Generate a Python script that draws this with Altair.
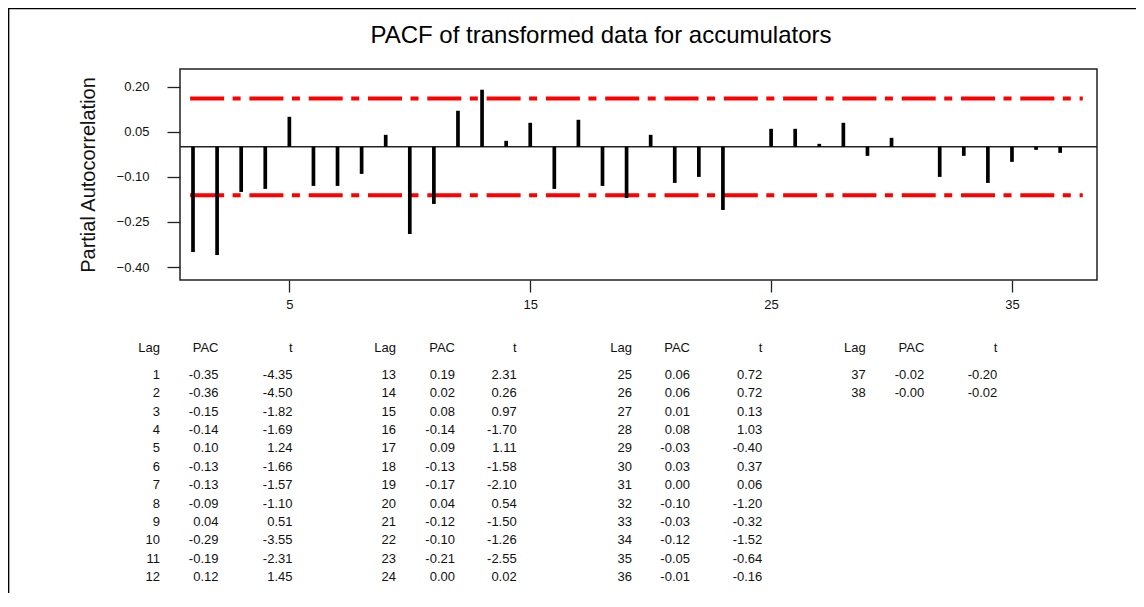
import altair as alt
import pandas as pd

# ---- data ----
lags = list(range(1, 39))
pac = [-0.35, -0.36, -0.15, -0.14, 0.10, -0.13, -0.13, -0.09, 0.04, -0.29, -0.19, 0.12,
       0.19, 0.02, 0.08, -0.14, 0.09, -0.13, -0.17, 0.04, -0.12, -0.10, -0.21, 0.00,
       0.06, 0.06, 0.01, 0.08, -0.03, 0.03, 0.00, -0.10, -0.03, -0.12, -0.05, -0.01,
       -0.02, -0.00]
tvals = [-4.35, -4.50, -1.82, -1.69, 1.24, -1.66, -1.57, -1.10, 0.51, -3.55, -2.31, 1.45,
         2.31, 0.26, 0.97, -1.70, 1.11, -1.58, -2.10, 0.54, -1.50, -1.26, -2.55, 0.02,
         0.72, 0.72, 0.13, 1.03, -0.40, 0.37, 0.06, -1.20, -0.32, -1.52, -0.64, -0.16,
         -0.20, -0.02]
conf_limit = 0.161
y_ticks = [0.20, 0.05, -0.10, -0.25, -0.40]
x_ticks = [5, 15, 25, 35]
headers = ["Lag", "PAC", "t"]

FONT = "Liberation Sans"
W, H = 917, 211
X_DOMAIN = [0.46, 38.53]
Y_DOMAIN = [-0.443, 0.259]
CONF_SPAN = [0.88, 37.94]

df = pd.DataFrame({"lag": lags, "pac": pac})
conf_df = pd.DataFrame({"y": [conf_limit, -conf_limit],
                        "x1": [CONF_SPAN[0]] * 2, "x2": [CONF_SPAN[1]] * 2})

xs = alt.Scale(domain=X_DOMAIN, nice=False, zero=False)
ys = alt.Scale(domain=Y_DOMAIN, nice=False, zero=False)

bars = alt.Chart(df).mark_rule(color="black", strokeWidth=3.7).encode(
    x=alt.X("lag:Q", scale=xs,
            axis=alt.Axis(values=x_ticks, title=None, grid=False, domain=False,
                          tickSize=12, tickWidth=1.3, tickColor="#222",
                          labelPadding=6, labelFontSize=13, labelFont=FONT,
                          labelColor="#111")),
    y=alt.Y("pac:Q", scale=ys,
            axis=alt.Axis(values=y_ticks, format=".2f", title="Partial Autocorrelation",
                          titleFont=FONT, titleFontSize=20, titleFontWeight="normal",
                          titleColor="#111", titlePadding=18,
                          grid=False, domain=False, tickSize=13, tickWidth=1.3,
                          tickColor="#222", labelPadding=18, labelFontSize=13,
                          labelFont=FONT, labelColor="#111")),
    y2=alt.datum(0),
)

zero = alt.Chart(pd.DataFrame({"y": [0.0]})).mark_rule(color="#222", strokeWidth=1.5).encode(
    y=alt.Y("y:Q", scale=ys)
)

conf = alt.Chart(conf_df).mark_rule(color="#ff0000", strokeWidth=4,
                                    strokeDash=[34, 8.5, 8, 8.8]).encode(
    x=alt.X("x1:Q", scale=xs), x2="x2:Q", y=alt.Y("y:Q", scale=ys)
)

plot = alt.layer(conf, zero, bars)

# ---- table of values below the plot ----
group_x = [[160, 218.5, 292.5], [396, 455, 516.7], [632, 690, 762.3], [865.7, 924.3, 997.3]]
HEADER_ROW = -1.45
rows = []
for g in range(4):
    for c, h in enumerate(headers):
        rows.append({"px": group_x[g][c], "row": HEADER_ROW, "label": h})
for i, (lg, p, t) in enumerate(zip(lags, pac, tvals)):
    g, r = divmod(i, 12)
    for c, s in enumerate([str(lg), f"{p:.2f}", f"{t:.2f}"]):
        rows.append({"px": group_x[g][c], "row": r, "label": s})
table_df = pd.DataFrame(rows)

table = alt.Chart(table_df).mark_text(align="right", baseline="middle", font=FONT,
                                      fontSize=13, color="#111").encode(
    x=alt.X("px:Q", scale=alt.Scale(domain=[180, 180 + W], range=[0, W], nice=False, zero=False),
            axis=None),
    y=alt.Y("row:Q", scale=alt.Scale(domain=[0, 11], range=[306, 508], nice=False, zero=False),
            axis=None),
    text="label:N",
)

# ---- outer frame (top and left edges) ----
one = alt.Data(values=[{}])
frame_top = alt.Chart(one).mark_rule(color="black", strokeWidth=1.7).encode(
    x=alt.value(-171.5), x2=alt.value(W + 60), y=alt.value(-60.5))
frame_left = alt.Chart(one).mark_rule(color="black", strokeWidth=1.7).encode(
    x=alt.value(-171.5), y=alt.value(-61), y2=alt.value(H + 330))

chart = alt.layer(frame_top, frame_left, plot, table).resolve_scale(
    x="independent", y="independent"
).properties(
    width=W, height=H,
    autosize=alt.AutoSizeParams(type="none"),
    padding={"left": 172, "top": 61, "right": 39, "bottom": 313},
    title=alt.TitleParams(text="PACF of transformed data for accumulators", font=FONT,
                          fontSize=24, fontWeight="normal", color="black",
                          anchor="middle", dx=-37.5, offset=-59.6, baseline="alphabetic"),
).configure(background="white").configure_view(stroke="#222", strokeWidth=1.5)

chart.save("out.html", embed_options={"renderer": "svg", "actions": False})
